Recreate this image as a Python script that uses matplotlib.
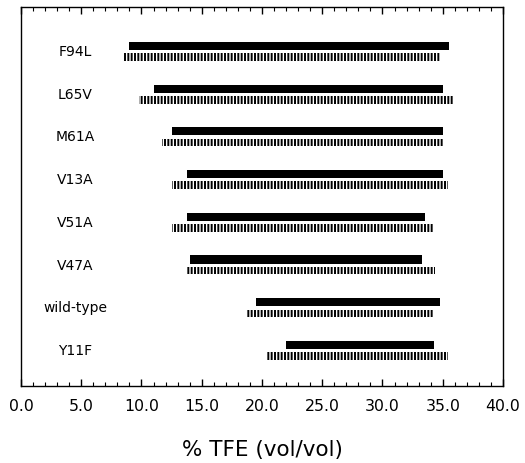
import matplotlib.pyplot as plt
from matplotlib.ticker import MultipleLocator

# TFE ranges per variant: solid bar and hatched bar (start, end) in % TFE
variants = ["F94L", "L65V", "M61A", "V13A", "V51A", "V47A", "wild-type", "Y11F"]
solid_start = [9.0, 11.0, 12.5, 13.8, 13.8, 14.0, 19.5, 22.0]
solid_end = [35.5, 35.0, 35.0, 35.0, 33.5, 33.3, 34.8, 34.3]
hatch_start = [8.5, 9.8, 11.7, 12.5, 12.5, 13.8, 18.7, 20.4]
hatch_end = [34.8, 35.9, 35.0, 35.4, 34.2, 34.4, 34.3, 35.4]
x_ticks = [0, 5, 10, 15, 20, 25, 30, 35, 40]

plt.rcParams['font.family'] = ['DejaVu Sans']
plt.rcParams['hatch.linewidth'] = 1.4

fig = plt.figure(figsize=(5.25, 4.63), dpi=100)
ax = fig.add_axes([0.04, 0.1663, 0.918, 0.8186])

rows = list(range(len(variants)))
solid_w = [e - s for s, e in zip(solid_start, solid_end)]
hatch_w = [e - s for s, e in zip(hatch_start, hatch_end)]
solid_y = [r - 0.14 for r in rows]
hatch_y = [r + 0.12 for r in rows]

ax.barh(solid_y, solid_w, left=solid_start, height=0.19, color='black')
ax.barh(hatch_y, hatch_w, left=hatch_start, height=0.18, facecolor='white',
        edgecolor='black', linewidth=0, hatch='|' * 5)

for r, name in zip(rows, variants):
    ax.text(4.5, r, name, ha='center', va='center', fontsize=10)

ax.set_xlim(0, 40)
ax.set_ylim(7.82, -1.05)
ax.set_xticks(x_ticks)
ax.set_xticklabels([f"{t:.1f}" for t in x_ticks], fontsize=11.3)
ax.xaxis.set_minor_locator(MultipleLocator(1))
ax.set_yticks([])
ax.tick_params(axis='x', which='both', direction='in', top=True, bottom=True, pad=9)
ax.tick_params(axis='x', which='major', length=5, width=1)
ax.tick_params(axis='x', which='minor', length=3, width=0.8)
for sp in ax.spines.values():
    sp.set_linewidth(1.0)

ax.set_xlabel("% TFE (vol/vol)", fontsize=15.5, labelpad=19)

fig.savefig("out.png", dpi=100)
